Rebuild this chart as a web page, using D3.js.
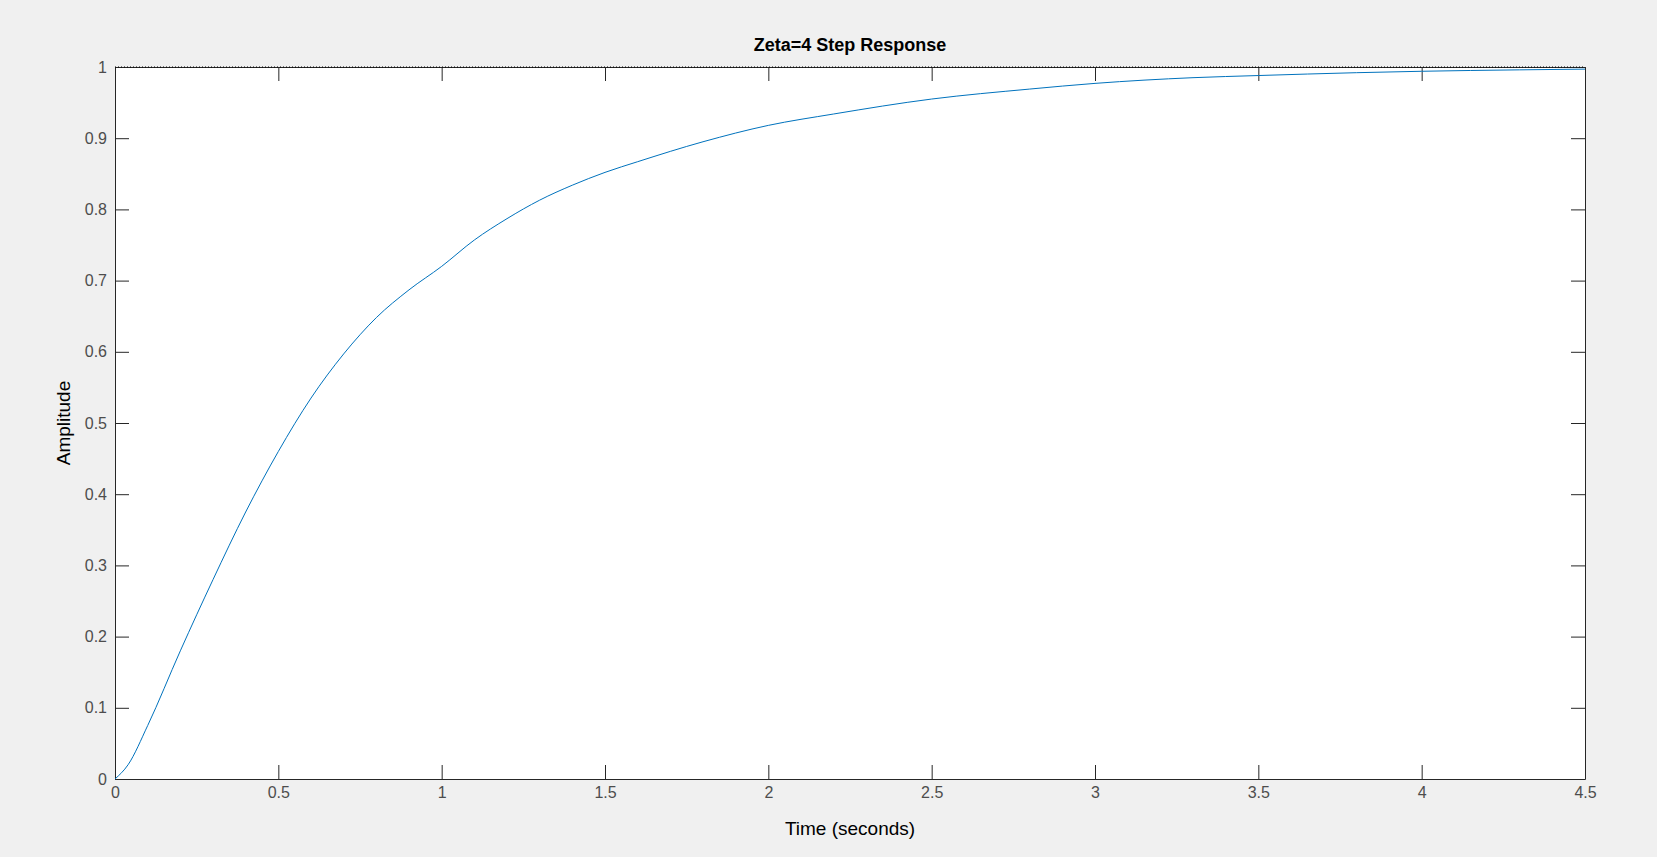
<!DOCTYPE html><html><head><meta charset="utf-8">
<script src="https://cdn.jsdelivr.net/npm/d3@7"></script>
<style>body{margin:0;background:#f0f0f0}</style></head><body>
<svg id="c" width="1657" height="857"></svg>
<script>
const times=[0,0.04,0.1,0.2,0.3,0.4,0.5,0.6,0.7,0.8,0.9,1.0,1.1,1.2,1.3,1.4,1.5,1.6,1.8,2.0,2.2,2.5,2.8,3.0,3.3,3.5,3.8,4.0,4.3,4.5];
const amplitude=[0,0.02,0.075,0.18,0.28,0.375,0.46,0.535,0.597,0.648,0.687,0.72,0.757,0.787,0.813,0.834,0.852,0.867,0.895,0.918,0.934,0.955,0.969,0.977,0.985,0.988,0.992,0.994,0.996,0.997];
const xTicks=[0,0.5,1,1.5,2,2.5,3,3.5,4,4.5];
const yTicks=[0,0.1,0.2,0.3,0.4,0.5,0.6,0.7,0.8,0.9,1];
const svg=d3.select("#c"),L=115,R=1585,T=67,B=779;
const x=d3.scaleLinear().domain([0,4.5]).range([L,R]);
const y=d3.scaleLinear().domain([0,1]).range([B,T]);
svg.append("rect").attr("x",L).attr("y",T).attr("width",R-L).attr("height",B-T).attr("fill","#fff");
const font="'Liberation Sans',Arial,sans-serif";
function ax(g,a){g.call(a);g.selectAll("path").attr("stroke","#262626");g.selectAll("line").attr("stroke","#262626");g.selectAll("text").attr("fill","#4d4d4d").style("font-family",font).style("font-size","16px");}
const fmt=d=>String(d);
ax(svg.append("g").attr("transform",`translate(0,${B})`),d3.axisBottom(x).tickValues(xTicks).tickFormat(fmt).tickSize(-14).tickPadding(8).tickSizeOuter(0));
ax(svg.append("g").attr("transform",`translate(0,${T})`),d3.axisTop(x).tickValues(xTicks).tickFormat("").tickSize(-14).tickSizeOuter(0));
ax(svg.append("g").attr("transform",`translate(${L},0)`),d3.axisLeft(y).tickValues(yTicks).tickFormat(fmt).tickSize(-14).tickPadding(8).tickSizeOuter(0));
ax(svg.append("g").attr("transform",`translate(${R},0)`),d3.axisRight(y).tickValues(yTicks).tickFormat("").tickSize(-14).tickSizeOuter(0));
svg.append("line").attr("x1",L).attr("x2",R).attr("y1",y(1)).attr("y2",y(1)).attr("stroke","#000").attr("stroke-dasharray","1,2");
svg.append("path").datum(times.map((t,i)=>[t,amplitude[i]])).attr("fill","none").attr("stroke","#0072bd").attr("stroke-width",1)
 .attr("d",d3.line().x(d=>x(d[0])).y(d=>y(d[1])).curve(d3.curveMonotoneX));
svg.append("text").attr("x",(L+R)/2).attr("y",51).attr("text-anchor","middle").style("font-family",font).style("font-size","18px").style("font-weight","bold").attr("fill","#000").text("Zeta=4 Step Response");
svg.append("text").attr("x",(L+R)/2).attr("y",835).attr("text-anchor","middle").style("font-family",font).style("font-size","19px").attr("fill","#000").text("Time (seconds)");
svg.append("text").attr("transform",`translate(70,${(T+B)/2}) rotate(-90)`).attr("text-anchor","middle").style("font-family",font).style("font-size","19px").attr("fill","#000").text("Amplitude");
</script></body></html>
